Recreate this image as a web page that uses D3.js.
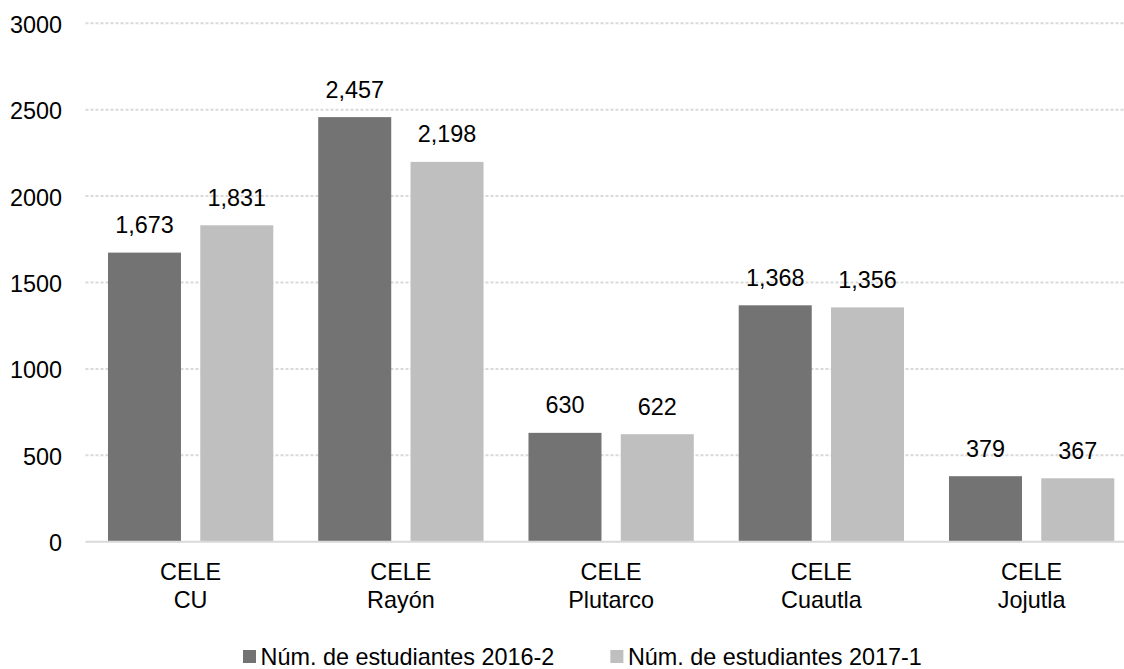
<!DOCTYPE html>
<html>
<head>
<meta charset="utf-8">
<script src="https://cdn.jsdelivr.net/npm/d3@7"></script>
<style>
  body { margin: 0; background: #fff; }
  svg { display: block; font-family: "Liberation Sans", Arial, sans-serif; }
</style>
</head>
<body>
<script>
const categories = [["CELE", "CU"], ["CELE", "Rayón"], ["CELE", "Plutarco"], ["CELE", "Cuautla"], ["CELE", "Jojutla"]];
const seriesNames = ["Núm. de estudiantes 2016-2", "Núm. de estudiantes 2017-1"];
const values2016 = [1673, 2457, 630, 1368, 379];
const values2017 = [1831, 2198, 622, 1356, 367];
const yTicks = [0, 500, 1000, 1500, 2000, 2500, 3000];
const colors = ["#737373", "#bfbfbf"];

const W = 1124, H = 669;
const fontSize = 23.4;
const svg = d3.select("body").append("svg").attr("width", W).attr("height", H);

const keys = categories.map((c) => c.join(" "));
const x0 = d3.scaleBand().domain(keys).range([85.5, 1136.75])
  .paddingInner(0.2138).paddingOuter(0.1069);
const x1 = d3.scaleBand().domain([0, 1]).range([0, x0.bandwidth()]).paddingInner(0.209);
const y = d3.scaleLinear().domain([0, 3000]).range([541.7, 23.3]);

// dotted gridlines
svg.append("g")
  .selectAll("line")
  .data(yTicks.filter((t) => t > 0))
  .join("line")
  .attr("x1", 85.5)
  .attr("x2", W)
  .attr("y1", (d) => y(d))
  .attr("y2", (d) => y(d))
  .style("stroke", "#d9d9d9")
  .style("stroke-width", 2)
  .style("stroke-dasharray", "3,2");

// y tick labels
svg.append("g")
  .selectAll("text")
  .data(yTicks)
  .join("text")
  .attr("x", 62)
  .attr("y", (d) => y(d) + 9.5)
  .attr("text-anchor", "end")
  .style("font-size", fontSize + "px")
  .style("fill", "#000")
  .text((d) => d);

// bars
const series = [values2016, values2017];
const groups = svg.append("g")
  .selectAll("g")
  .data(keys)
  .join("g")
  .attr("transform", (d) => `translate(${x0(d)},0)`);

groups.selectAll("rect")
  .data((d, i) => series.map((s, j) => ({ j, v: s[i] })))
  .join("rect")
  .attr("x", (d) => x1(d.j))
  .attr("y", (d) => y(d.v))
  .attr("width", x1.bandwidth())
  .attr("height", (d) => y(0) - y(d.v))
  .style("fill", (d) => colors[d.j]);

groups.selectAll("text.val")
  .data((d, i) => series.map((s, j) => ({ j, v: s[i] })))
  .join("text")
  .attr("class", "val")
  .attr("x", (d) => x1(d.j) + x1.bandwidth() / 2)
  .attr("y", (d) => y(d.v) - 19.5)
  .attr("text-anchor", "middle")
  .style("font-size", fontSize + "px")
  .style("fill", "#000")
  .text((d) => d3.format(",")(d.v));

// baseline
svg.append("line")
  .attr("x1", 85.5)
  .attr("x2", W)
  .attr("y1", y(0))
  .attr("y2", y(0))
  .style("stroke", "#d9d9d9")
  .style("stroke-width", 2);

// category labels
const catText = svg.append("g")
  .selectAll("text")
  .data(categories)
  .join("text")
  .attr("text-anchor", "middle")
  .style("font-size", fontSize + "px")
  .style("fill", "#000");
catText.selectAll("tspan")
  .data((d, i) => d.map((line) => ({ line, key: keys[i] })))
  .join("tspan")
  .attr("x", (d) => x0(d.key) + x0.bandwidth() / 2)
  .attr("y", (d, i) => 580 + i * 27.5)
  .text((d) => d.line);

// legend
const legend = svg.append("g");
let lx = 243;
seriesNames.forEach((name, i) => {
  legend.append("rect")
    .attr("x", lx)
    .attr("y", 650)
    .attr("width", 13)
    .attr("height", 13)
    .style("fill", colors[i]);
  const t = legend.append("text")
    .attr("x", lx + 17.5)
    .attr("y", 665)
    .style("font-size", fontSize + "px")
    .style("fill", "#000")
    .text(name);
  lx = lx + 17.5 + t.node().getComputedTextLength() + 56;
});
</script>
</body>
</html>
